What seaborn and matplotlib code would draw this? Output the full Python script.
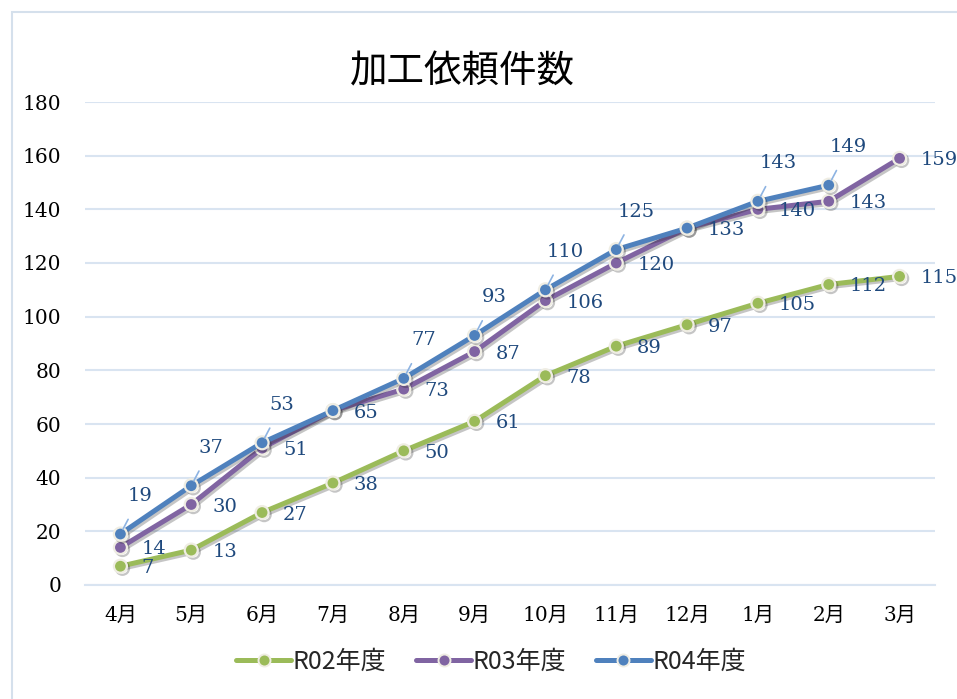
import numpy as np
import pandas as pd
import matplotlib
matplotlib.use("Agg")
import matplotlib.pyplot as plt
import matplotlib.patheffects as pe
from matplotlib.lines import Line2D
import seaborn as sns

months = ["4月", "5月", "6月", "7月", "8月", "9月", "10月", "11月", "12月", "1月", "2月", "3月"]
r02 = [7, 13, 27, 38, 50, 61, 78, 89, 97, 105, 112, 115]
r03 = [14, 30, 51, 65, 73, 87, 106, 120, 133, 140, 143, 159]
r04 = [19, 37, 53, 65, 77, 93, 110, 125, 133, 143, 149]
series_names = ["R02年度", "R03年度", "R04年度"]
title = "加工依頼件数"

colors = ["#9BBB59", "#8064A2", "#4F81BD"]
label_color = "#1F497D"
grid_color = "#D9E4F1"

sns.set_theme(style="white")
plt.rcParams["font.family"] = ["Noto Sans CJK JP", "DejaVu Sans"]

fig = plt.figure(figsize=(9.57, 6.99), dpi=100)
ax = fig.add_axes([85 / 957, 1 - 585 / 699, 850 / 957, 483 / 699])

# frame around chart
fig.patches.append(plt.Rectangle((12 / 957, -0.1), 1.2, 1.1 - 12 / 699,
                                 transform=fig.transFigure, fill=False,
                                 edgecolor="#D5E0EC", linewidth=1.5, zorder=0))

px = 72 / 100  # points per pixel
serif = ["DejaVu Serif", "Noto Sans CJK JP"]

all_series = [r02, r03, r04]
for i, (vals, name, col) in enumerate(zip(all_series, series_names, colors)):
    xs = np.arange(len(vals))
    df = pd.DataFrame({"x": xs, "y": vals})
    sns.lineplot(data=df, x="x", y="y", ax=ax, color=col, linewidth=5 * px,
                 marker="o", markersize=13 * px, markeredgecolor="#EFEDE3",
                 markeredgewidth=1.6, markerfacecolor=col, zorder=3 + i,
                 path_effects=[pe.SimpleLineShadow(offset=(1.5, -1.5), alpha=0.25), pe.Normal()])

# data labels
for i, vals in enumerate(all_series):
    for j, v in enumerate(vals):
        if i == 2 and not (j < len(r03) and r03[j] == v):
            ax.annotate(str(v), (j, v), xytext=(20 * px, 38 * px), textcoords="offset points",
                        ha="center", va="center", fontsize=14, color=label_color,
                        family=serif, zorder=10,
                        arrowprops=dict(arrowstyle="-", color="#8DB3E2", lw=1.2,
                                        shrinkA=9, shrinkB=4))
        elif i == 2:
            continue
        else:
            ax.annotate(str(v), (j, v), xytext=(21 * px, -2 * px), textcoords="offset points",
                        ha="left", va="center", fontsize=14, color=label_color,
                        family=serif, zorder=10, annotation_clip=False)

ax.set_xlim(-0.5, len(months) - 0.5)
ax.set_ylim(0, 180)
ax.set_yticks(np.arange(0, 181, 20))
ax.set_xticks(np.arange(len(months)))
ax.set_xticklabels(months, family=serif, fontsize=14.5, color="black")
ax.set_yticklabels([str(t) for t in range(0, 181, 20)], family=serif, fontsize=14.5, color="black")
ax.set_xticks(np.arange(len(months) + 1) - 0.5, minor=True)
ax.tick_params(axis="x", which="major", length=0, pad=15)
ax.tick_params(axis="x", which="minor", length=9 * px, color=grid_color, width=1.5, direction="out")
ax.tick_params(axis="y", length=0, pad=17)
ax.yaxis.grid(True, color=grid_color, linewidth=1.5)
ax.set_axisbelow(True)
for s in ["top", "right", "left"]:
    ax.spines[s].set_visible(False)
ax.spines["bottom"].set_color(grid_color)
ax.spines["bottom"].set_linewidth(1.5)
ax.set_xlabel("")
ax.set_ylabel("")
ax.set_facecolor("white")

fig.text(462 / 957, 1 - 72 / 699, title, ha="center", va="center", fontsize=27,
         color="black", family=["Noto Sans CJK JP", "DejaVu Sans"])

handles = [Line2D([0], [0], color=c, lw=5 * px, marker="o", markersize=12 * px,
                  markerfacecolor=c, markeredgecolor="#EFEDE3", markeredgewidth=1.4)
           for c in colors]
fig.legend(handles, series_names, loc="center", bbox_to_anchor=(491 / 957, 1 - 662 / 699),
           ncol=3, frameon=False, handlelength=2.2, handletextpad=0.05,
           columnspacing=1.2, borderpad=0,
           prop={"family": ["Noto Sans CJK JP", "DejaVu Sans"], "size": 18})

fig.savefig("out.png", dpi=100)
